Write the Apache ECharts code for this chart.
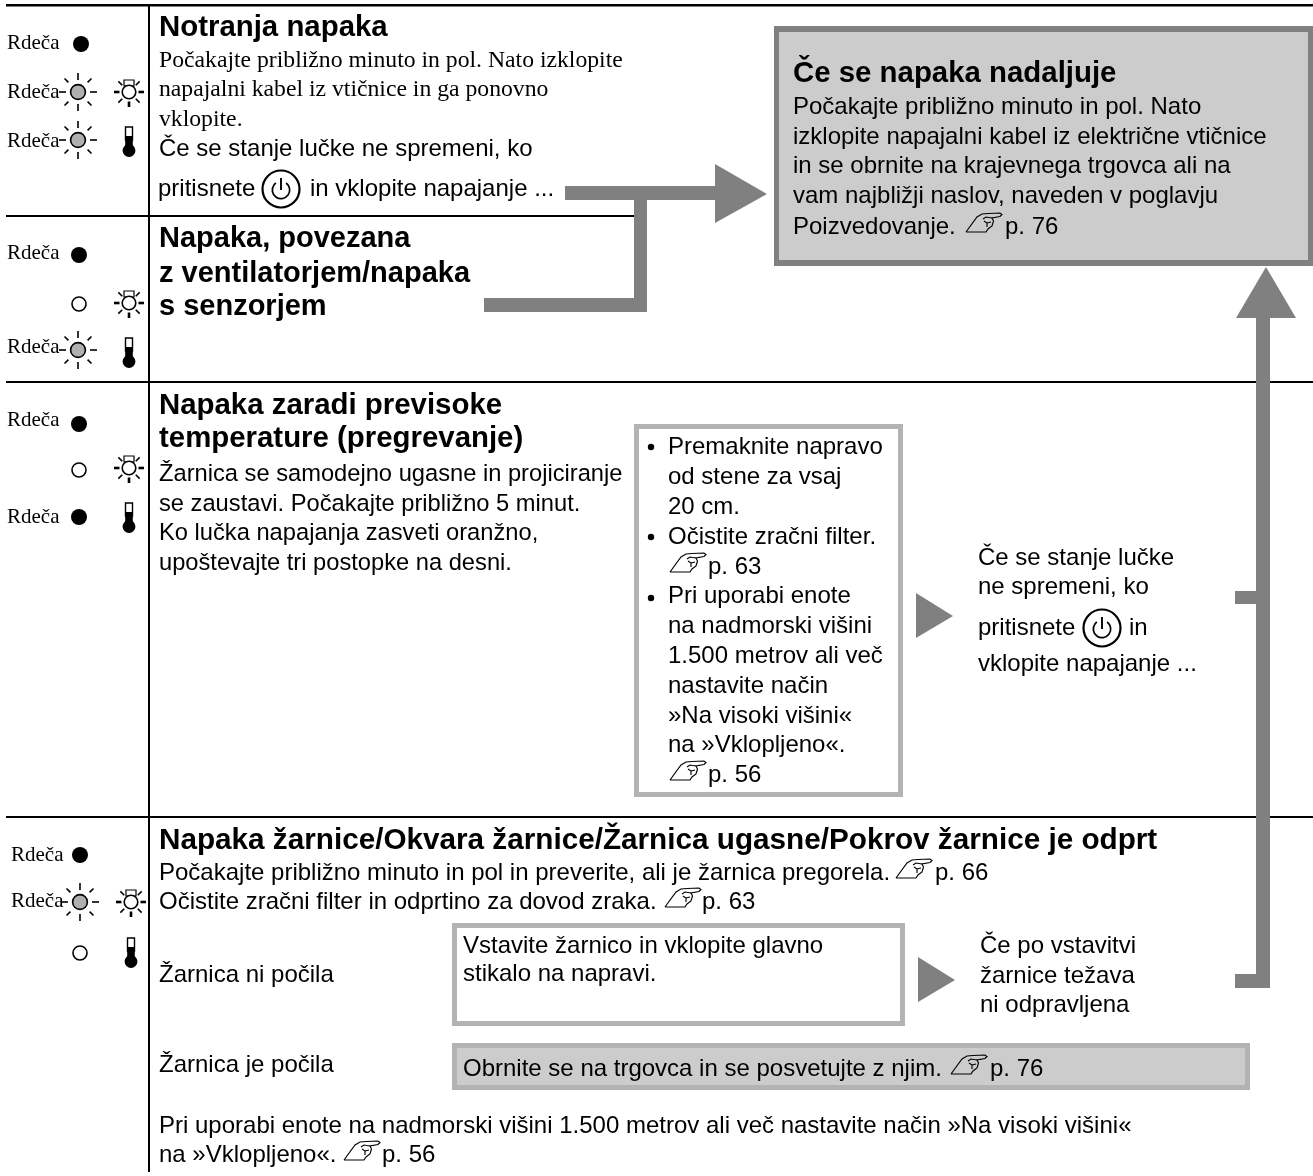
<!DOCTYPE html>
<html><head><meta charset="utf-8">
<style>html,body{margin:0;padding:0;background:#fff}#c{width:1313px;height:1176px}</style>
<script src="https://cdn.jsdelivr.net/npm/echarts@6/dist/echarts.min.js"></script>
</head><body><div id="c"></div>
<script>
const ledLabel = 'Rdeča';
const row1Title = ['Notranja napaka'];
const row1Serif = ['Počakajte približno minuto in pol. Nato izklopite','napajalni kabel iz vtičnice in ga ponovno','vklopite.'];
const row1Sans = ['Če se stanje lučke ne spremeni, ko'];
const row1Press = ['pritisnete','in vklopite napajanje ...'];
const row2Title = ['Napaka, povezana','z ventilatorjem/napaka','s senzorjem'];
const boxTitle = ['Če se napaka nadaljuje'];
const boxBody = ['Počakajte približno minuto in pol. Nato','izklopite napajalni kabel iz električne vtičnice','in se obrnite na krajevnega trgovca ali na','vam najbližji naslov, naveden v poglavju'];
const boxLast = ['Poizvedovanje.','p. 76'];
const row3Title = ['Napaka zaradi previsoke','temperature (pregrevanje)'];
const row3Body = ['Žarnica se samodejno ugasne in projiciranje','se zaustavi. Počakajte približno 5 minut.','Ko lučka napajanja zasveti oranžno,','upoštevajte tri postopke na desni.'];
const bullet1 = ['Premaknite napravo','od stene za vsaj','20 cm.'];
const bullet2 = ['Očistite zračni filter.'];
const bullet3 = ['Pri uporabi enote','na nadmorski višini','1.500 metrov ali več','nastavite način','»Na visoki višini«','na »Vklopljeno«.'];
const pageRefs = ['p. 63','p. 56','p. 66','p. 76'];
const row3Right = ['Če se stanje lučke','ne spremeni, ko','pritisnete','in','vklopite napajanje ...'];
const row4Title = ['Napaka žarnice/Okvara žarnice/Žarnica ugasne/Pokrov žarnice je odprt'];
const row4Lines = ['Počakajte približno minuto in pol in preverite, ali je žarnica pregorela.','Očistite zračni filter in odprtino za dovod zraka.'];
const lampCases = ['Žarnica ni počila','Žarnica je počila'];
const insertBox = ['Vstavite žarnico in vklopite glavno','stikalo na napravi.'];
const insertNext = ['Če po vstavitvi','žarnice težava','ni odpravljena'];
const dealerBox = ['Obrnite se na trgovca in se posvetujte z njim.'];
const footNote = ['Pri uporabi enote na nadmorski višini 1.500 metrov ali več nastavite način »Na visoki višini«','na »Vklopljeno«.'];

const SANS='"Liberation Sans",Arial,sans-serif', SERIF='"Liberation Serif","Times New Roman",serif';
const G=[];
const DARK='#808080', MID='#b3b3b3', FILL='#cccccc', INK='#000';
const BODY=24, HEAD=29.4;

function T(s,x,y,o){o=o||{};const size=o.size||BODY,font=o.font||SANS;
  const off=(font===SERIF?.3375:.3465)*size-2.5;
  G.push({type:'text',x,y:y-off,z:o.z||5,style:{text:s,fill:INK,font:(o.bold?'bold ':'')+size+'px '+font,textAlign:o.align||'left',textVerticalAlign:'middle'}});}
function lines(a,x,ys,o){a.forEach((s,i)=>T(s,x,ys[i],o));}
function R(x0,y0,x1,y1,fill,z){G.push({type:'rect',z:z||2,shape:{x:x0,y:y0,width:x1-x0,height:y1-y0},style:{fill}});}
function P(pts,fill,z){G.push({type:'polygon',z:z||3,shape:{points:pts},style:{fill}});}
function L(x0,y0,x1,y1,w,c,z){G.push({type:'line',z:z||4,shape:{x1:x0,y1:y0,x2:x1,y2:y1},style:{stroke:c||INK,lineWidth:w}});}
function C(x,y,r,fill,sw,z){G.push({type:'circle',z:z||4,shape:{cx:x,cy:y,r},style:{fill,stroke:INK,lineWidth:sw||0}});}
function box(x0,y0,x1,y1,bw,border,fill){R(x0,y0,x1,y1,border,2);R(x0+bw,y0+bw,x1-bw,y1-bw,fill,2);}
function rays(x,y,r0,r1,heavy){
  const d=[[0,-1],[0,1],[-1,0],[1,0],[.71,.71],[-.71,.71],[.71,-.71],[-.71,-.71]];
  d.forEach((v,i)=>{ if(heavy&&i===0)return;
    const a=(!heavy&&i>=4)?r0+1.5:r0;
    L(x+v[0]*a,y+v[1]*a,x+v[0]*r1,y+v[1]*r1,(heavy&&i<4)?2.6:1.6);});
}
function dot(x,y){C(x,y,8,INK,0);}
function open(x,y){C(x,y,7,'#fff',1.6);}
function blink(x,y){C(x,y,7.4,'#b0b0b0',1.6);rays(x,y,12,19);}
function lamp(x,y){C(x,y,6.8,'#fff',1.6);G.push({type:'rect',z:3,shape:{x:x-5,y:y-12,width:10,height:6},style:{fill:'#fff',stroke:INK,lineWidth:1.2}});rays(x,y,9.5,15,true);}
function therm(x,y0){
  G.push({type:'rect',z:4,shape:{x:x-3.5,y:y0,width:7,height:13},style:{fill:'#fff',stroke:INK,lineWidth:1.4}});
  R(x-3.8,y0+9,x+3.8,y0+22,INK,4);C(x,y0+23.5,6.4,INK,0);
}
function power(x,y,r){C(x,y,r,'none',2.2);G.push({type:'arc',z:4,shape:{cx:x,cy:y+1,r:r*.47,startAngle:-Math.PI*.3,endAngle:Math.PI*1.3,clockwise:true},style:{fill:'none',stroke:INK,lineWidth:1.7}});L(x,y-r*.6,x,y+1,1.9);}
function hand(x,y){
  const pl=pts=>G.push({type:'polyline',z:5,x,y,shape:{points:pts},style:{fill:'none',stroke:INK,lineWidth:1.15}});
  pl([[0,0],[11,-15],[16,-18],[22,-18.5],[34,-19],[36,-17.5],[34,-15.5],[26,-14],[27.5,-11],[26,-6],[22,-3],[20,0],[0,0]]);
  pl([[17,-13],[20,-15],[26,-14]]);pl([[18,-11],[21,-9],[21,-5]]);pl([[21,-9],[25,-10]]);
}
function led(y,x,text){T(text,x,y,{font:SERIF,size:21});}

// ---- rules
R(6,4,1313,6.5,INK,1);
R(6,215,640,217,INK,1);
R(6,381,1313,383,INK,1);
R(6,816,1313,818,INK,1);
R(148,5,150,1172,INK,1);

// ---- row 1
led(48,7,ledLabel);dot(81,44);
led(97,7,ledLabel);blink(78,92);lamp(129,92);
led(146,7,ledLabel);blink(78,140);therm(129,127);
lines(row1Title,159,[36],{bold:true,size:HEAD});
lines(row1Serif,159,[66,95,125],{font:SERIF,size:23.7});
lines(row1Sans,159,[155],{});
T(row1Press[0],158,195,{});power(281,189,18.5);T(row1Press[1],310,195,{});

// ---- row 2
led(258,7,ledLabel);dot(79,255);
open(79,304);lamp(129,303);
led(352,7,ledLabel);blink(78,350);therm(129,338);
lines(row2Title,159,[247,282,315],{bold:true,size:29});

// ---- arrows
R(565,186,715,200,DARK,3);
P([[715,164],[767,194],[715,223]],DARK);
R(634,186,647,312,DARK,3);
R(484,298,647,312,DARK,3);
P([[1266,267],[1296,318],[1236,318]],DARK);
R(1256,318,1270,988,DARK,3);
R(1235,591,1256,604,DARK,3);
R(1235,974,1256,988,DARK,3);
P([[916,593],[953,616],[916,638]],DARK);
P([[918,957],[955,980],[918,1002]],DARK);

// ---- grey box
R(774,26,1313,266,DARK,2);R(779,32,1308,260,FILL,2);
lines(boxTitle,793,[82],{bold:true,size:HEAD});
lines(boxBody,793,[113,143,172,202],{});
T(boxLast[0],793,233,{});hand(966,232);T(boxLast[1],1005,233,{});

// ---- row 3
led(425,7,ledLabel);dot(79,424);
open(79,470);lamp(129,468);
led(522,7,ledLabel);dot(79,517);therm(129,503);
lines(row3Title,159,[414,447],{bold:true,size:HEAD});
lines(row3Body,159,[480,510,539,569],{size:23.7});
box(634,424,903,797,5,MID,'#fff');
[447,537,598].forEach(y=>C(651,y,3.2,INK,0));
lines(bullet1,668,[453,483,513],{});
lines(bullet2,668,[543],{});
hand(670,572);T(pageRefs[0],708,573,{});
lines(bullet3,668,[602,632,662,692,722,751],{});
hand(670,780);T(pageRefs[1],708,781,{});
lines(row3Right.slice(0,2),978,[564,593],{});
T(row3Right[2],978,634,{});power(1102,628,18.5);T(row3Right[3],1129,634,{});
T(row3Right[4],978,670,{});

// ---- row 4
led(860,11,ledLabel);dot(80,855);
led(906,11,ledLabel);blink(80,902);lamp(131,902);
open(80,953);therm(131,938);
lines(row4Title,159,[849],{bold:true,size:29.7});
T(row4Lines[0],159,879,{});hand(896,878);T(pageRefs[2],935,879,{});
T(row4Lines[1],159,908,{});hand(665,907);T(pageRefs[0],702,908,{});
T(lampCases[0],159,981,{});
box(452,923,905,1026,5,MID,'#fff');
lines(insertBox,463,[952,980],{});
lines(insertNext,980,[952,982,1011],{});
T(lampCases[1],159,1071,{});
box(452,1043,1250,1090,5,MID,FILL);
T(dealerBox[0],463,1075,{});hand(951,1074);T(pageRefs[3],990,1075,{});
lines(footNote.slice(0,1),159,[1132],{});
T(footNote[1],159,1161,{});hand(344,1160);T(pageRefs[1],382,1161,{});

const chart=echarts.init(document.getElementById('c'),null,{renderer:'canvas',width:1313,height:1176});
chart.setOption({animation:false,backgroundColor:'#fff',graphic:{elements:G}});
</script></body></html>
